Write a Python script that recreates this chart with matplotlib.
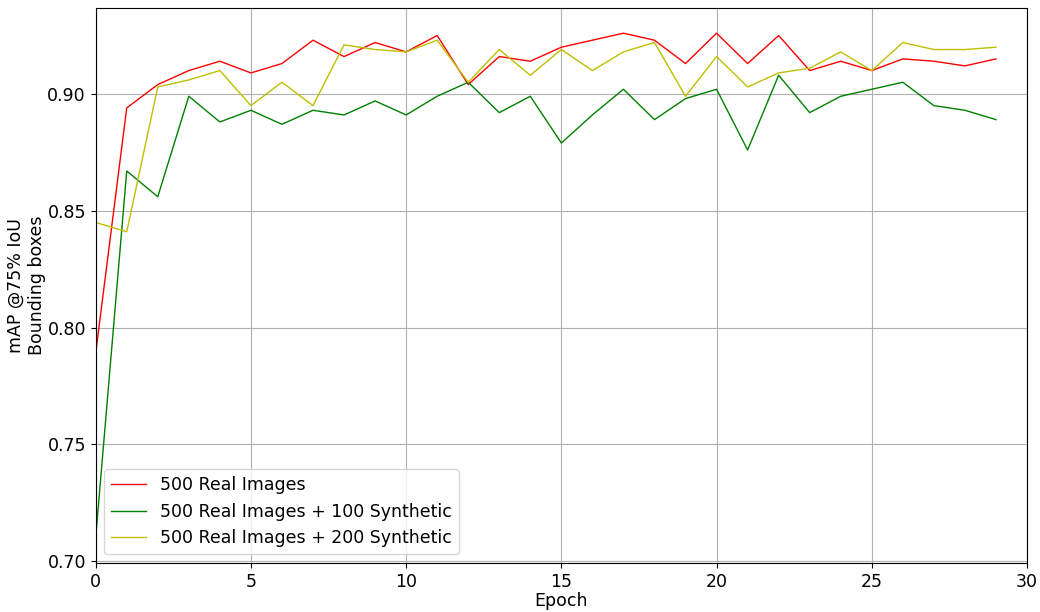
import matplotlib
matplotlib.use("Agg")
import matplotlib.pyplot as plt

# -------- data --------
epochs = list(range(30))

real_500 = [0.789, 0.894, 0.904, 0.910, 0.914, 0.909, 0.913, 0.923, 0.916, 0.922,
            0.918, 0.925, 0.904, 0.916, 0.914, 0.920, 0.923, 0.926, 0.923, 0.913,
            0.926, 0.913, 0.925, 0.910, 0.914, 0.910, 0.915, 0.914, 0.912, 0.915]

real_500_syn_100 = [0.710, 0.867, 0.856, 0.899, 0.888, 0.893, 0.887, 0.893, 0.891, 0.897,
                    0.891, 0.899, 0.905, 0.892, 0.899, 0.879, 0.891, 0.902, 0.889, 0.898,
                    0.902, 0.876, 0.908, 0.892, 0.899, 0.902, 0.905, 0.895, 0.893, 0.889]

real_500_syn_200 = [0.845, 0.841, 0.903, 0.906, 0.910, 0.895, 0.905, 0.895, 0.921, 0.919,
                    0.918, 0.923, 0.905, 0.919, 0.908, 0.919, 0.910, 0.918, 0.922, 0.899,
                    0.916, 0.903, 0.909, 0.911, 0.918, 0.910, 0.922, 0.919, 0.919, 0.920]

labels = ["500 Real Images",
          "500 Real Images + 100 Synthetic",
          "500 Real Images + 200 Synthetic"]

plt.rcParams["font.size"] = 12.5

fig, ax = plt.subplots(figsize=(10.4, 6.12), dpi=100)
fig.subplots_adjust(left=0.092, right=0.9875, top=0.987, bottom=0.080)

ax.plot(epochs, real_500, color="red", linewidth=1.0, label=labels[0])
ax.plot(epochs, real_500_syn_100, color="green", linewidth=1.0, label=labels[1])
ax.plot(epochs, real_500_syn_200, color="y", linewidth=1.0, label=labels[2])

ax.set_xlim(0, 30)
ax.set_xlabel("Epoch", labelpad=1)
ax.set_ylabel("mAP @75% IoU\nBounding boxes", labelpad=1)
ax.grid(True, color="#b0b0b0", linewidth=0.8)
ax.legend(loc="lower left")

plt.savefig("out.png")
